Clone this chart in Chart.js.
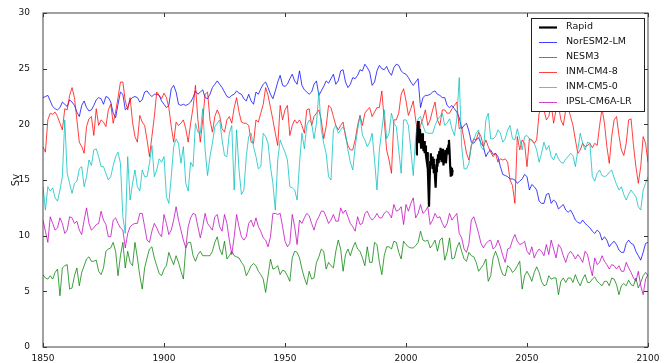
<!DOCTYPE html>
<html>
<head>
<meta charset="utf-8">
<script src="https://cdn.jsdelivr.net/npm/chart.js@4.4.1/dist/chart.umd.min.js"></script>
<style>
  html, body { margin: 0; padding: 0; background: #fff; }
  #wrap { width: 666px; height: 363px; }
</style>
</head>
<body>
<div id="wrap"><canvas id="amocChart"></canvas></div>
<script>
// annual model values, 1850..2100
const firstYear = 1850;
const lastYear = 2100;

const norESM2 = [
  22.4, 22.5, 22.6, 22.1, 21.6, 21.4, 21.3, 21.5, 22.0, 21.8,
  21.6, 22.2, 22.0, 21.7, 21.1, 20.7, 21.7, 22.1, 21.5, 21.2,
  21.3, 21.7, 22.2, 22.4, 22.3, 21.8, 22.5, 22.4, 22.0, 21.0,
  20.6, 21.8, 22.9, 22.7, 21.3, 21.5, 22.2, 22.4, 22.5, 22.4,
  22.0, 22.2, 22.9, 23.0, 22.7, 22.5, 22.7, 22.7, 22.6, 22.1,
  21.8, 21.5, 21.7, 23.2, 23.5, 22.9, 21.8, 21.7, 21.8, 21.7,
  21.8, 22.0, 22.4, 23.0, 22.7, 22.9, 23.1, 22.4, 22.3, 22.7,
  23.3, 23.6, 23.9, 23.6, 23.3, 22.9, 22.5, 22.4, 22.6, 22.7,
  23.0, 22.8, 22.7, 22.3, 22.1, 22.7, 22.1, 21.8, 22.9, 22.7,
  23.2, 23.6, 23.8, 23.3, 22.7, 22.3, 23.0, 23.8, 24.4, 23.5,
  23.4, 23.6, 24.1, 24.5, 23.9, 23.6, 24.8, 23.5, 23.1, 22.9,
  22.7, 22.9, 23.6, 23.9, 22.6, 23.0, 23.4, 23.9, 23.7, 24.1,
  24.5, 23.6, 23.9, 24.8, 24.9, 23.8, 23.3, 23.6, 24.2, 24.1,
  24.4, 24.9, 24.8, 25.4, 25.1, 24.7, 23.5, 23.8, 24.8, 25.3,
  25.0, 24.9, 25.2, 24.7, 24.4, 25.1, 25.4, 25.3, 24.8, 24.6,
  24.5, 24.2, 23.8, 23.5, 23.8, 24.1, 21.5, 22.4, 22.6, 22.6,
  22.7, 22.9, 23.0, 22.7, 22.6, 22.4, 22.4, 21.7, 21.5, 21.7,
  21.4, 21.1, 20.6, 19.6, 19.9, 20.1, 19.4, 18.4, 18.3, 18.6,
  18.8, 18.3, 18.0, 17.1, 17.5, 17.7, 17.3, 17.4, 17.1, 16.2,
  15.5, 15.4, 15.3, 15.1, 15.1, 15.0, 14.7, 14.9, 15.1, 15.5,
  15.3, 14.1, 14.6, 14.4, 14.1, 13.1, 12.9, 12.9, 13.7, 13.8,
  12.9, 13.2, 13.0, 12.4, 12.6, 12.8, 12.3, 12.1, 12.3, 11.9,
  11.4, 11.2, 11.1, 11.4, 11.1, 10.9, 10.7, 10.4, 10.2, 10.5,
  10.3, 9.6, 9.9, 9.6, 9.0, 9.3, 9.5, 9.2, 8.7, 8.5,
  8.5, 9.3, 9.6, 9.3, 9.2, 8.6, 8.2, 7.8, 8.5, 9.3, 9.4
];

const nesm3 = [
  6.5, 6.2, 6.1, 6.4, 6.1, 6.7, 7.0, 4.6, 7.1, 7.3,
  7.4, 5.2, 5.3, 6.4, 7.1, 5.5, 6.7, 7.3, 7.9, 8.1,
  7.7, 7.7, 7.8, 6.8, 6.5, 7.1, 8.6, 8.8, 8.9, 9.4,
  8.6, 6.4, 8.2, 9.4, 7.1, 8.6, 7.6, 7.3, 9.4, 8.0,
  6.4, 5.2, 7.1, 8.0, 8.8, 9.0, 8.0, 7.3, 6.6, 6.4,
  7.0, 7.3, 8.5, 7.9, 7.4, 8.2, 7.6, 6.8, 6.1, 8.9,
  9.4, 9.4, 8.2, 7.7, 8.3, 8.6, 8.2, 8.2, 8.2, 8.2,
  8.6, 9.4, 9.9, 8.8, 8.3, 9.5, 7.9, 8.2, 8.6, 8.2,
  8.1, 8.0, 7.6, 7.3, 6.4, 6.8, 7.3, 7.5, 7.3, 6.8,
  6.5, 6.1, 4.9, 6.4, 7.9, 7.0, 7.1, 7.3, 6.5, 6.9,
  6.8, 6.4, 5.9, 8.0, 8.6, 8.5, 8.0, 7.0, 6.2, 5.6,
  6.8, 6.1, 6.2, 7.6, 8.1, 8.8, 8.6, 7.0, 7.6, 7.3,
  7.1, 8.6, 9.6, 8.8, 6.8, 8.3, 8.8, 8.2, 8.9, 9.4,
  8.8, 8.6, 8.0, 7.3, 9.0, 7.6, 7.6, 9.4, 9.2, 7.6,
  6.5, 8.2, 9.0, 9.0, 8.8, 9.5, 9.4, 8.5, 7.9, 9.5,
  9.2, 9.0, 8.9, 8.9, 9.1, 9.4, 10.4, 9.6, 9.5, 9.6,
  8.9, 9.2, 9.6, 8.6, 9.6, 9.8, 7.8, 8.5, 9.8, 7.9,
  8.0, 8.9, 9.4, 8.6, 7.9, 7.7, 8.5, 8.2, 8.1, 7.6,
  6.8, 7.1, 7.4, 7.9, 5.9, 6.4, 8.0, 8.6, 8.0, 7.1,
  6.5, 6.4, 7.3, 7.1, 6.7, 6.9, 7.3, 7.7, 5.2, 6.4,
  6.8, 6.4, 5.9, 6.7, 7.2, 6.7, 5.9, 5.5, 5.6, 6.4,
  6.1, 6.2, 6.2, 4.7, 5.9, 6.2, 5.8, 6.2, 6.2, 5.8,
  6.5, 5.9, 5.5, 6.1, 6.5, 5.8, 5.8, 6.1, 6.3, 5.9,
  5.7, 5.5, 5.9, 5.9, 5.5, 6.2, 6.1, 5.6, 4.7, 5.5,
  5.7, 5.5, 6.0, 5.6, 5.5, 6.2, 5.3, 5.8, 6.4, 6.7, 6.4
];

const inmCM48 = [
  18.0, 17.5, 20.4, 21.0, 20.9, 21.1, 20.7, 20.1, 19.5, 21.4,
  21.3, 22.6, 23.3, 22.4, 20.4, 18.4, 18.0, 17.4, 19.8, 20.5,
  20.7, 19.0, 21.4, 19.9, 20.4, 20.2, 19.8, 21.3, 21.8, 20.1,
  21.1, 22.4, 23.8, 23.8, 22.1, 21.3, 22.4, 20.2, 18.9, 18.4,
  20.8, 20.2, 19.9, 18.6, 17.1, 18.9, 20.7, 22.9, 22.6, 22.3,
  22.8, 22.4, 21.5, 19.8, 18.4, 20.2, 19.9, 20.1, 20.4, 19.6,
  18.4, 20.1, 21.5, 23.5, 20.4, 18.4, 20.4, 22.7, 22.9, 20.4,
  19.3, 20.7, 21.3, 20.8, 19.6, 19.3, 20.4, 20.7, 20.1, 21.5,
  22.4, 21.1, 20.2, 20.1, 20.1, 19.9, 18.4, 18.3, 20.4, 20.2,
  21.0, 21.8, 23.3, 22.6, 21.5, 20.4, 19.2, 18.1, 21.7, 20.4,
  21.3, 21.7, 19.0, 19.9, 20.4, 20.1, 20.4, 19.9, 19.2, 21.3,
  21.4, 19.9, 20.7, 21.0, 21.3, 20.4, 18.7, 19.8, 21.7, 21.5,
  20.7, 19.9, 19.5, 19.9, 20.2, 18.9, 18.1, 17.7, 17.7, 18.6,
  19.9, 20.8, 19.9, 21.0, 21.3, 21.5, 20.7, 21.1, 21.5, 21.5,
  23.0, 20.4, 17.7, 16.8, 15.6, 20.4, 20.4, 21.0, 22.7, 23.2,
  22.1, 20.8, 21.4, 22.1, 20.4, 19.0, 19.9, 20.5, 21.3, 19.9,
  20.4, 21.3, 22.0, 20.4, 19.9, 21.3, 21.3, 21.0, 21.0, 21.4,
  21.7, 22.0, 19.6, 19.8, 18.6, 17.4, 16.8, 18.1, 18.7, 18.6,
  19.3, 18.9, 18.0, 18.6, 18.0, 17.5, 17.1, 17.4, 16.6, 16.9,
  16.8, 16.9, 16.6, 15.0, 14.5, 12.9, 18.9, 17.7, 18.6, 18.3,
  16.2, 18.7, 18.6, 18.3, 18.6, 21.0, 21.3, 21.3, 20.4, 20.7,
  21.8, 20.1, 21.3, 21.7, 20.4, 19.9, 21.3, 21.5, 20.7, 19.9,
  18.6, 17.4, 17.7, 18.3, 18.0, 18.1, 18.3, 17.9, 18.3, 18.1,
  19.9, 21.4, 20.1, 18.0, 16.5, 18.9, 20.4, 20.7, 19.0, 17.7,
  17.2, 18.3, 20.4, 20.5, 18.1, 16.2, 14.7, 16.2, 18.9, 18.3, 16.6
];

const inmCM50 = [
  14.4, 12.3, 14.4, 14.0, 14.3, 13.4, 13.1, 14.1, 15.3, 20.4,
  15.6, 14.7, 13.8, 14.7, 14.9, 16.0, 16.2, 14.4, 15.3, 16.8,
  16.3, 17.7, 17.8, 17.1, 16.2, 16.2, 15.6, 15.0, 15.3, 16.3,
  17.1, 17.5, 16.5, 11.7, 10.2, 17.1, 13.2, 14.7, 15.9, 14.4,
  14.0, 15.9, 15.3, 15.3, 16.5, 18.1, 15.3, 15.9, 16.9, 16.6,
  17.1, 13.5, 12.9, 15.3, 18.0, 18.7, 18.3, 16.5, 18.0, 14.7,
  14.0, 16.6, 16.2, 20.1, 19.3, 19.2, 21.4, 17.7, 15.4, 17.1,
  18.3, 19.8, 20.1, 20.4, 18.6, 17.2, 17.1, 19.2, 19.9, 14.1,
  19.5, 15.9, 13.7, 14.1, 17.1, 18.9, 19.2, 18.0, 17.1, 16.0,
  16.2, 19.2, 18.9, 18.3, 16.2, 14.7, 12.3, 16.8, 18.6, 18.0,
  17.5, 16.8, 14.4, 14.3, 14.1, 13.2, 16.5, 19.2, 17.8, 19.9,
  20.4, 20.1, 18.7, 20.1, 22.9, 19.5, 18.3, 17.4, 15.3, 15.0,
  19.5, 19.9, 19.2, 19.5, 19.8, 19.2, 17.7, 16.6, 15.9, 18.0,
  19.5, 20.8, 19.0, 18.6, 18.0, 18.4, 19.2, 16.8, 14.1, 17.7,
  19.5, 21.3, 18.7, 19.2, 21.0, 20.1, 19.8, 17.7, 15.6, 20.4,
  20.4, 19.9, 17.7, 15.4, 18.9, 20.5, 20.7, 19.9, 19.3, 19.2,
  19.2, 19.2, 19.9, 20.4, 20.7, 21.0, 19.9, 20.1, 20.5, 19.6,
  19.0, 20.5, 24.2, 18.0, 16.0, 16.0, 16.5, 18.1, 18.6, 19.2,
  19.5, 18.0, 17.7, 20.4, 21.0, 18.7, 18.7, 18.9, 19.5, 19.2,
  18.4, 18.7, 19.5, 19.9, 18.7, 18.6, 19.6, 18.7, 17.7, 18.9,
  19.0, 18.7, 18.5, 18.3, 17.7, 16.6, 17.4, 18.4, 17.7, 18.1,
  17.1, 16.8, 17.4, 16.9, 16.6, 16.5, 16.9, 17.1, 17.4, 17.2,
  16.2, 17.7, 19.2, 18.3, 17.7, 18.4, 18.3, 15.3, 14.9, 15.6,
  15.9, 15.4, 15.3, 15.4, 15.7, 15.9, 15.2, 14.6, 14.1, 14.4,
  13.7, 13.2, 13.7, 14.1, 13.8, 13.5, 12.6, 12.3, 14.1, 14.7, 15.3
];

const ipslCM6A = [
  11.4, 10.4, 9.4, 11.7, 11.1, 10.5, 10.7, 11.6, 11.1, 10.2,
  10.5, 11.7, 11.6, 11.1, 11.3, 10.5, 10.1, 11.4, 12.5, 11.1,
  10.5, 10.7, 11.0, 11.1, 12.2, 11.4, 11.0, 9.9, 9.9, 11.4,
  11.6, 11.1, 10.7, 10.5, 8.9, 10.2, 10.8, 11.0, 11.1, 11.1,
  12.0, 12.0, 10.8, 9.6, 9.4, 10.4, 11.1, 10.7, 10.2, 9.9,
  11.9, 11.1, 10.1, 10.5, 11.4, 12.6, 11.4, 10.5, 9.6, 8.9,
  10.8, 11.6, 12.0, 11.9, 10.8, 9.8, 10.8, 12.0, 11.1, 10.8,
  10.5, 11.7, 11.9, 10.8, 10.4, 11.9, 11.1, 9.6, 8.3, 9.9,
  11.9, 10.8, 9.9, 9.6, 9.9, 11.1, 11.4, 10.8, 11.6, 10.8,
  10.4, 9.8, 9.6, 9.0, 9.9, 12.0, 12.0, 11.9, 12.0, 10.8,
  9.5, 9.0, 9.3, 11.9, 10.8, 9.2, 11.4, 11.1, 11.6, 12.0,
  11.8, 11.1, 10.5, 11.3, 11.7, 12.2, 12.2, 11.7, 11.1, 11.4,
  11.9, 11.3, 11.3, 12.5, 12.0, 12.3, 11.7, 11.1, 10.8, 10.4,
  11.7, 11.0, 11.1, 12.0, 12.2, 11.7, 11.4, 11.6, 12.0, 11.6,
  11.6, 12.0, 12.2, 12.0, 11.6, 12.8, 12.2, 12.3, 12.6, 11.0,
  12.8, 12.2, 12.9, 13.4, 11.6, 12.0, 12.8, 12.0, 12.2, 12.6,
  11.0, 11.4, 12.0, 11.6, 11.7, 11.1, 10.7, 11.1, 12.0, 11.4,
  11.7, 12.0, 10.2, 9.8, 8.8, 8.5, 9.3, 11.4, 11.7, 11.0,
  10.2, 9.3, 8.9, 9.3, 9.5, 9.6, 8.8, 9.0, 9.6, 9.0,
  8.2, 7.6, 8.8, 8.9, 9.6, 10.1, 9.5, 9.2, 9.3, 9.5,
  8.6, 8.3, 9.0, 8.0, 8.5, 8.8, 8.6, 8.2, 9.2, 8.3,
  9.6, 8.8, 8.0, 9.2, 8.9, 8.2, 7.6, 8.3, 8.6, 8.3,
  7.9, 8.3, 8.0, 7.6, 8.6, 8.3, 7.3, 6.4, 8.0, 7.4,
  7.6, 8.2, 7.7, 7.4, 7.0, 7.4, 7.3, 7.0, 7.3, 6.8,
  6.8, 7.6, 7.1, 6.7, 6.2, 5.9, 6.8, 5.5, 4.7, 6.1, 6.5
];

// RAPID array observations, quarterly from 2004.25
const rapidStart = 2004.25;
const rapidStep = 0.25;
const rapid = [
  17.3, 18.2, 19.5, 20.3, 19.2, 18.4, 19.6, 18.8, 17.9, 18.7,
  19.2, 18.2, 17.6, 18.5, 17.4, 18.1, 17.2, 16.8, 17.5, 16.1,
  14.4, 12.6, 14.8, 16.6, 17.4, 16.3, 17.1, 16.0, 16.9, 15.6,
  16.4, 15.2, 14.3, 15.8, 16.9, 16.2, 17.3, 16.5, 17.6, 16.8,
  17.9, 17.0, 16.6, 17.8, 17.1, 16.3, 17.4, 16.9, 17.7, 16.5,
  17.2, 17.9, 17.3, 18.1, 18.6, 17.6, 16.2, 15.3, 16.1, 15.4,
  15.9
];

const yTicks = [0, 5, 10, 15, 20, 25, 30];
const xTicks = [1850, 1900, 1950, 2000, 2050, 2100];

const years = [];
for (let y = firstYear; y <= lastYear; y++) years.push(y);

function toPoints(xs, ys) {
  return ys.map((v, i) => ({ x: xs[i], y: v }));
}
const rapidTimes = rapid.map((v, i) => rapidStart + i * rapidStep);

const series = [
  { label: 'Rapid', x: rapidTimes, y: rapid, color: '#000000', width: 2.2, order: 0 },
  { label: 'NorESM2-LM', x: years, y: norESM2, color: 'rgba(0,0,255,0.75)', width: 1, order: 5 },
  { label: 'NESM3', x: years, y: nesm3, color: 'rgba(0,128,0,0.75)', width: 1, order: 4 },
  { label: 'INM-CM4-8', x: years, y: inmCM48, color: 'rgba(255,0,0,0.75)', width: 1, order: 3 },
  { label: 'INM-CM5-0', x: years, y: inmCM50, color: 'rgba(0,191,191,0.75)', width: 1, order: 2 },
  { label: 'IPSL-CM6A-LR', x: years, y: ipslCM6A, color: 'rgba(191,0,191,0.75)', width: 1, order: 1 }
];

Chart.defaults.font.family = "'DejaVu Sans', sans-serif";
Chart.defaults.font.size = 9;
Chart.defaults.color = '#111';

// frame + inward ticks on all four sides, and the boxed legend inside the plot
const mplLook = {
  id: 'mplLook',
  afterDraw(chart) {
    const ctx = chart.ctx;
    const a = chart.chartArea;
    const xs = chart.scales.x, ys = chart.scales.y;
    ctx.save();
    ctx.strokeStyle = '#333';
    ctx.lineWidth = 1;
    ctx.beginPath();
    xTicks.forEach(t => {
      const px = Math.round(xs.getPixelForValue(t)) + 0.5;
      ctx.moveTo(px, a.bottom); ctx.lineTo(px, a.bottom - 4);
      ctx.moveTo(px, a.top); ctx.lineTo(px, a.top + 4);
    });
    yTicks.forEach(t => {
      const py = Math.round(ys.getPixelForValue(t)) + 0.5;
      ctx.moveTo(a.left, py); ctx.lineTo(a.left + 4, py);
      ctx.moveTo(a.right, py); ctx.lineTo(a.right - 4, py);
    });
    ctx.stroke();

    // legend
    const bw = 113, bh = 93;
    const bx = a.right - 4 - bw, by = a.top + 5;
    ctx.fillStyle = '#fff';
    ctx.fillRect(bx, by, bw, bh);
    ctx.strokeStyle = '#222';
    ctx.strokeRect(bx + 0.5, by + 0.5, bw, bh);
    ctx.font = "9.5px 'DejaVu Sans', sans-serif";
    ctx.textBaseline = 'middle';
    series.forEach((s, i) => {
      const cy = by + 9 + i * 15;
      ctx.strokeStyle = s.color;
      ctx.lineWidth = s.width;
      ctx.beginPath();
      ctx.moveTo(bx + 8, cy + 0.5);
      ctx.lineTo(bx + 26, cy + 0.5);
      ctx.stroke();
      ctx.fillStyle = '#111';
      ctx.fillText(s.label, bx + 35, cy);
    });

    ctx.strokeStyle = '#444';
    ctx.lineWidth = 1;
    ctx.strokeRect(a.left, a.top, a.right - a.left, a.bottom - a.top);
    ctx.restore();
  }
};

const ctx = document.getElementById('amocChart');
new Chart(ctx, {
  type: 'line',
  data: {
    datasets: series.map(s => ({
      label: s.label,
      data: toPoints(s.x, s.y),
      borderColor: s.color,
      borderWidth: s.width,
      pointRadius: 0,
      fill: false,
      tension: 0,
      order: s.order
    }))
  },
  options: {
    responsive: true,
    maintainAspectRatio: false,
    animation: false,
    layout: { padding: { top: 13, right: 18, left: 0, bottom: 0 } },
    plugins: {
      legend: { display: false },
      tooltip: { enabled: false }
    },
    scales: {
      x: {
        type: 'linear',
        min: firstYear,
        max: lastYear,
        grid: { display: false },
        border: { display: false },
        afterFit: s => { s.height = 16; },
        afterBuildTicks: s => { s.ticks = xTicks.map(v => ({ value: v })); },
        ticks: { padding: -2, maxRotation: 0, callback: v => String(v) }
      },
      y: {
        min: 0,
        max: 30,
        grid: { display: false },
        border: { display: false },
        afterFit: s => { s.width = 43; },
        afterBuildTicks: s => { s.ticks = yTicks.map(v => ({ value: v })); },
        ticks: { padding: 5, callback: v => String(v) },
        title: { display: true, text: 'Sv', font: { size: 10 }, padding: { top: 10, bottom: 0 } }
      }
    }
  },
  plugins: [mplLook]
});
</script>
</body>
</html>
